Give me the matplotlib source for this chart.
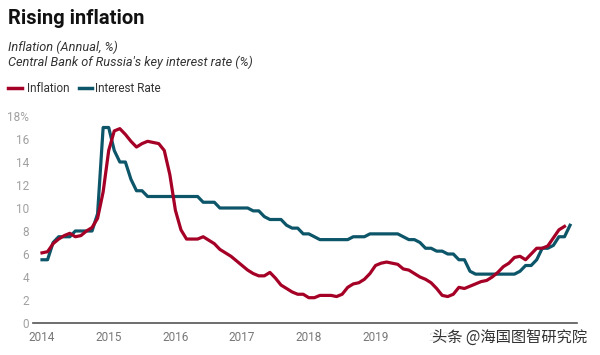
import numpy as np
import matplotlib.pyplot as plt
from matplotlib.lines import Line2D

plt.rcParams['font.family'] = ['Roboto', 'DejaVu Sans']

# monthly values, Jan 2014 onward
inflation = [6.1, 6.2, 6.9, 7.3, 7.6, 7.8, 7.5, 7.6, 8.0, 8.3, 9.1, 11.4,
             15.0, 16.7, 16.9, 16.4, 15.8, 15.3, 15.6, 15.8, 15.7, 15.6, 15.0, 12.9,
             9.8, 8.1, 7.3, 7.3, 7.3, 7.5, 7.2, 6.9, 6.4, 6.1, 5.8, 5.4,
             5.0, 4.6, 4.3, 4.1, 4.1, 4.4, 3.9, 3.3, 3.0, 2.7, 2.5, 2.5,
             2.2, 2.2, 2.4, 2.4, 2.4, 2.3, 2.5, 3.1, 3.4, 3.5, 3.8, 4.3,
             5.0, 5.2, 5.3, 5.2, 5.1, 4.7, 4.6, 4.3, 4.0, 3.8, 3.5, 3.0,
             2.4, 2.3, 2.5, 3.1, 3.0, 3.2, 3.4, 3.6, 3.7, 4.0, 4.4, 4.9,
             5.2, 5.7, 5.8, 5.5, 6.0, 6.5, 6.5, 6.7, 7.4, 8.1, 8.4]
key_rate = [5.5, 5.5, 7.0, 7.5, 7.5, 7.5, 8.0, 8.0, 8.0, 8.0, 9.5, 17.0,
            17.0, 15.0, 14.0, 14.0, 12.5, 11.5, 11.5, 11.0, 11.0, 11.0, 11.0, 11.0,
            11.0, 11.0, 11.0, 11.0, 11.0, 10.5, 10.5, 10.5, 10.0, 10.0, 10.0, 10.0,
            10.0, 10.0, 9.75, 9.75, 9.25, 9.0, 9.0, 9.0, 8.5, 8.25, 8.25, 7.75,
            7.75, 7.5, 7.25, 7.25, 7.25, 7.25, 7.25, 7.25, 7.5, 7.5, 7.5, 7.75,
            7.75, 7.75, 7.75, 7.75, 7.75, 7.5, 7.25, 7.25, 7.0, 6.5, 6.5, 6.25,
            6.25, 6.0, 6.0, 5.5, 5.5, 4.5, 4.25, 4.25, 4.25, 4.25, 4.25, 4.25,
            4.25, 4.25, 4.5, 5.0, 5.0, 5.5, 6.5, 6.5, 6.75, 7.5, 7.5, 8.5]
years = [2014, 2015, 2016, 2017, 2018, 2019, 2020]
yticks = [0, 2, 4, 6, 8, 10, 12, 14, 16, 18]

red = '#a50026'
blue = '#0d566a'

x_inf = 2014 + np.arange(len(inflation)) / 12
x_rate = 2014 + np.arange(len(key_rate)) / 12

fig = plt.figure(figsize=(6, 3.55), dpi=100)
ax = fig.add_axes([33 / 600, 32 / 355, 544 / 600, 207 / 355])
ax.plot(x_rate, key_rate, color=blue, lw=2.3, solid_joinstyle='round', clip_on=False)
ax.plot(x_inf, inflation, color=red, lw=2.3, solid_joinstyle='round', clip_on=False)

ax.set_xlim(2014 - 9 / 66.7, 2014 + 535 / 66.7)
ax.set_ylim(0, 18)
for s in ['top', 'right', 'left']:
    ax.spines[s].set_visible(False)
ax.spines['bottom'].set_color('#555555')
ax.spines['bottom'].set_linewidth(1.2)
ax.set_yticks(yticks)
ax.set_yticklabels([str(v) if v != 18 else '18%' for v in yticks])
ax.set_xticks(years)
ax.set_xticklabels([str(y) for y in years])
ax.tick_params(axis='y', length=0, labelsize=8.5, colors='#a0a0a0', pad=3)
ax.tick_params(axis='x', length=0, labelsize=8.5, colors='#777777', pad=6)

fig.text(8 / 600, 1 - 18 / 355, 'Rising inflation', fontsize=14.5, fontweight='bold',
         color='#111111', va='center')
fig.text(8 / 600, 1 - 47 / 355, 'Inflation (Annual, %)', fontsize=9.2,
         style='italic', color='#333333', va='center')
fig.text(8 / 600, 1 - 62 / 355, "Central Bank of Russia's key interest rate (%)",
         fontsize=9.2, style='italic', color='#333333', va='center')

ly = 1 - 88 / 355
fig.add_artist(Line2D([8 / 600, 22 / 600], [ly, ly], color=red, lw=2.5))
fig.text(27 / 600, ly, 'Inflation', fontsize=8.5, color='#333333', va='center')
fig.add_artist(Line2D([79 / 600, 92 / 600], [ly, ly], color=blue, lw=2.5))
fig.text(95 / 600, ly, 'Interest Rate', fontsize=8.5, color='#333333', va='center')

fig.text(432 / 600, 1 - 337 / 355, '头条 @海国图智研究院', fontsize=11,
         family=['Noto Sans CJK SC', 'DejaVu Sans'], color='#333333', va='center',
         bbox=dict(facecolor='white', edgecolor='none', pad=0.5, alpha=0.85))

fig.savefig('out.png', dpi=100, facecolor='white')
